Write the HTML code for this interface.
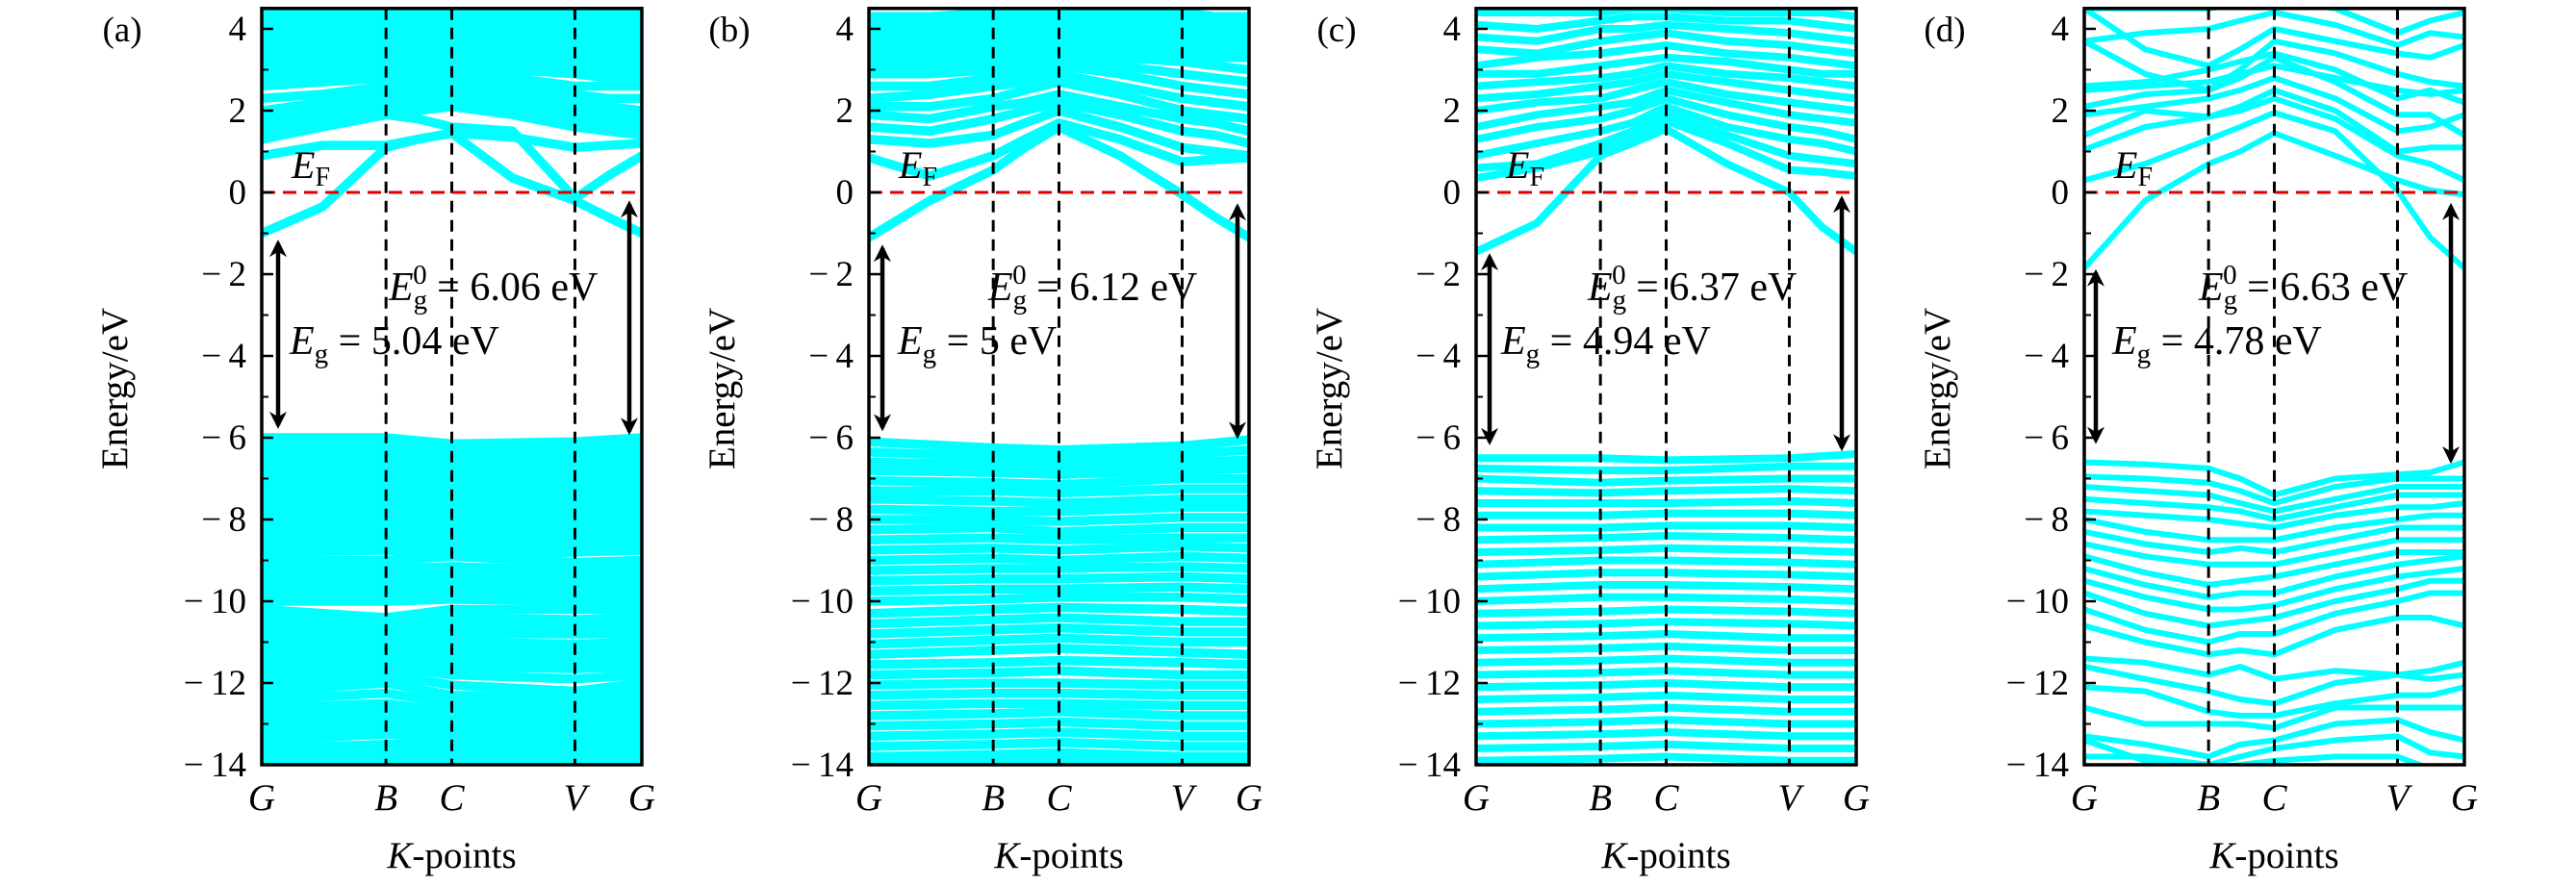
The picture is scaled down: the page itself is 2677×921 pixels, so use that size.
<!DOCTYPE html>
<html><head><meta charset="utf-8"><style>
html,body{margin:0;padding:0;background:#fff;}
svg{display:block;font-family:"Liberation Serif",serif;}
</style></head><body>
<svg id="fig" width="2677" height="921" viewBox="0 0 2677 921" xmlns="http://www.w3.org/2000/svg"></svg>
<script>
const kLabels = ["G","B","C","V","G"];
const kPos5 = [0, 0.327, 0.5, 0.824, 1];
const kPos9 = [0, 0.16, 0.327, 0.41, 0.5, 0.66, 0.824, 0.91, 1];
const yTicks = [4, 2, 0, -2, -4, -6, -8, -10, -12, -14];
const yMinor = [3, 1, -1, -3, -5, -7, -9, -11, -13];
const panelLetters = ["(a)", "(b)", "(c)", "(d)"];
const gapValues = ["6.06", "6.12", "6.37", "6.63"];
const egValues = ["5.04", "5", "4.94", "4.78"];

const bandsA = [
"-1.0 -0.35 1.1 1.3 1.45 0.35 -0.2 -0.6 -1.0",
"0.9 1.15 1.15 1.3 1.45 1.35 1.1 1.15 1.2",
"1.3 1.6 1.9 1.8 1.6 1.5 -0.15 0.4 0.9",
"1.4 1.7 1.9 2.0 2.1 1.9 1.6 1.5 1.4",
"1.6 1.8 2.0 2.2 2.3 2.1 1.8 1.7 1.6",
"1.8 2.0 2.2 2.3 2.4 2.2 2.0 1.9 1.8",
"2.0 2.2 2.4 2.5 2.6 2.4 2.2 2.1 2.0",
"2.3 2.4 2.6 2.7 2.8 2.6 2.4 2.3 2.3",
"2.6 2.7 2.8 2.9 3.0 2.8 2.6 2.6 2.6",
"2.8 2.9 3.0 3.1 3.2 3.0 2.9 2.8 2.8",
"3.0 3.1 3.2 3.3 3.4 3.2 3.1 3.0 3.0",
"3.2 3.3 3.4 3.5 3.6 3.4 3.3 3.2 3.2",
"3.4 3.5 3.6 3.7 3.8 3.6 3.5 3.4 3.4",
"3.6 3.7 3.8 3.9 3.9 3.8 3.7 3.6 3.6",
"3.8 3.9 4.0 4.0 4.1 4.0 3.9 3.8 3.8",
"4.0 4.1 4.2 4.2 4.25 4.2 4.1 4.0 4.0",
"4.2 4.3 4.35 4.4 4.4 4.35 4.3 4.2 4.2",
"4.4 4.45 4.5 4.55 4.55 4.5 4.45 4.4 4.4",
"-6.0 -6.0 -6.15 -6.1 -6.0",
"-6.2 -6.2 -6.3 -6.25 -6.2",
"-6.4 -6.35 -6.5 -6.4 -6.35",
"-6.6 -6.55 -6.7 -6.6 -6.55",
"-6.8 -6.75 -6.85 -6.8 -6.75",
"-7.0 -6.95 -7.05 -7.0 -6.95",
"-7.2 -7.15 -7.25 -7.2 -7.15",
"-7.4 -7.35 -7.45 -7.4 -7.35",
"-7.6 -7.55 -7.65 -7.6 -7.55",
"-7.8 -7.75 -7.85 -7.8 -7.75",
"-8.0 -7.95 -8.05 -8.0 -7.95",
"-8.2 -8.15 -8.25 -8.2 -8.15",
"-8.4 -8.35 -8.45 -8.4 -8.35",
"-8.6 -8.55 -8.65 -8.6 -8.55",
"-8.8 -8.75 -8.85 -8.8 -8.75",
"-9.0 -9.0 -8.9 -9.05 -9.0",
"-9.2 -9.2 -9.15 -9.25 -9.2",
"-9.4 -9.4 -9.35 -9.45 -9.4",
"-9.6 -9.6 -9.55 -9.65 -9.6",
"-9.8 -9.8 -9.75 -9.85 -9.8",
"-10.0 -10.0 -9.95 -10.0 -10.0",
"-10.2 -10.4 -10.2 -10.2 -10.2",
"-10.4 -10.55 -10.4 -10.45 -10.4",
"-10.6 -10.7 -10.6 -10.6 -10.6",
"-10.8 -10.85 -10.8 -10.8 -10.8",
"-11.0 -11.0 -11.0 -11.05 -11.0",
"-11.2 -11.15 -11.2 -11.25 -11.2",
"-11.4 -11.35 -11.4 -11.45 -11.4",
"-11.6 -11.55 -11.6 -11.65 -11.6",
"-11.8 -11.6 -11.8 -11.9 -11.8",
"-12.0 -11.8 -12.05 -12.2 -12.0",
"-12.2 -12.0 -12.3 -12.35 -12.2",
"-12.4 -12.25 -12.5 -12.5 -12.4",
"-12.6 -12.5 -12.7 -12.65 -12.6",
"-12.8 -12.7 -12.85 -12.8 -12.8",
"-13.0 -12.9 -13.0 -12.95 -13.0",
"-13.2 -13.1 -13.15 -13.1 -13.2",
"-13.4 -13.25 -13.3 -13.3 -13.4",
"-13.6 -13.5 -13.45 -13.5 -13.55",
"-13.8 -13.7 -13.65 -13.7 -13.75",
"-14.0 -13.9 -13.85 -13.9 -13.95"
];
const bandsB = [
"-1.1 -0.2 0.55 1.1 1.6 0.9 -0.05 -0.6 -1.1",
"0.85 0.4 0.9 1.3 1.7 1.3 0.75 0.8 0.85",
"1.3 1.2 1.4 1.7 2.0 1.6 1.1 1.0 0.9",
"1.6 1.5 1.8 2.0 2.2 1.9 1.5 1.4 1.2",
"1.9 1.8 2.1 2.2 2.4 2.1 1.8 1.7 1.5",
"2.1 2.1 2.3 2.5 2.7 2.4 2.0 1.9 1.8",
"2.3 2.4 2.6 2.7 2.9 2.6 2.3 2.2 2.1",
"2.6 2.6 2.8 2.9 3.1 2.9 2.6 2.5 2.4",
"2.9 2.9 3.0 3.1 3.3 3.1 2.9 2.8 2.7",
"3.1 3.1 3.2 3.3 3.5 3.3 3.2 3.1 3.0",
"3.3 3.3 3.4 3.5 3.6 3.5 3.4 3.3 3.3",
"3.5 3.5 3.6 3.7 3.8 3.7 3.6 3.5 3.5",
"3.7 3.7 3.8 3.9 4.0 3.9 3.8 3.7 3.7",
"3.9 3.9 4.0 4.1 4.2 4.1 4.0 3.9 3.9",
"4.1 4.1 4.2 4.3 4.35 4.3 4.2 4.1 4.1",
"4.3 4.3 4.4 4.45 4.5 4.45 4.4 4.3 4.3",
"-6.1 -6.25 -6.3 -6.2 -6.05",
"-6.35 -6.45 -6.5 -6.4 -6.3",
"-6.6 -6.65 -6.7 -6.6 -6.55",
"-6.8 -6.85 -6.9 -6.8 -6.75",
"-7.05 -7.1 -7.15 -7.0 -7.0",
"-7.3 -7.3 -7.35 -7.25 -7.25",
"-7.5 -7.55 -7.6 -7.5 -7.5",
"-7.75 -7.8 -7.8 -7.7 -7.7",
"-8.0 -8.0 -8.05 -7.95 -7.95",
"-8.25 -8.2 -8.3 -8.2 -8.2",
"-8.5 -8.45 -8.5 -8.45 -8.45",
"-8.75 -8.7 -8.75 -8.65 -8.7",
"-9.0 -8.95 -9.0 -8.9 -8.95",
"-9.25 -9.2 -9.2 -9.15 -9.2",
"-9.5 -9.45 -9.45 -9.4 -9.45",
"-9.75 -9.7 -9.7 -9.65 -9.7",
"-10.0 -9.95 -9.9 -9.9 -9.95",
"-10.3 -10.2 -10.15 -10.2 -10.25",
"-10.55 -10.45 -10.4 -10.5 -10.5",
"-10.8 -10.7 -10.65 -10.75 -10.75",
"-11.05 -10.95 -10.9 -11.0 -11.0",
"-11.3 -11.2 -11.15 -11.25 -11.3",
"-11.55 -11.5 -11.45 -11.5 -11.55",
"-11.8 -11.75 -11.7 -11.8 -11.8",
"-12.05 -12.0 -12.0 -12.05 -12.05",
"-12.3 -12.25 -12.25 -12.3 -12.3",
"-12.55 -12.5 -12.5 -12.55 -12.55",
"-12.8 -12.75 -12.7 -12.8 -12.8",
"-13.05 -13.0 -12.95 -13.05 -13.05",
"-13.3 -13.25 -13.2 -13.3 -13.3",
"-13.55 -13.5 -13.45 -13.55 -13.55",
"-13.8 -13.75 -13.7 -13.8 -13.8",
"-14.0 -13.95 -13.9 -14.0 -14.0"
];
const bandsC = [
"-1.45 -0.75 0.9 1.2 1.55 0.7 0.0 -0.85 -1.45",
"0.35 0.6 1.0 1.3 1.75 1.2 0.55 0.5 0.4",
"0.6 0.7 1.2 1.5 1.9 1.4 0.9 0.8 0.7",
"0.9 1.2 1.5 1.7 2.1 1.6 1.3 1.2 1.0",
"1.3 1.6 1.8 2.0 2.3 1.9 1.6 1.5 1.3",
"1.6 1.9 2.1 2.2 2.5 2.2 1.9 1.8 1.7",
"2.0 2.2 2.3 2.5 2.7 2.4 2.2 2.1 2.0",
"2.3 2.4 2.6 2.7 2.9 2.7 2.5 2.4 2.3",
"2.6 2.7 2.8 2.9 3.1 2.9 2.8 2.7 2.6",
"2.9 2.9 3.1 3.2 3.3 3.2 3.0 2.9 2.9",
"3.1 3.3 3.4 3.5 3.6 3.4 3.3 3.2 3.1",
"3.5 3.4 3.7 3.8 3.9 3.7 3.6 3.5 3.4",
"3.8 3.7 4.0 4.0 4.1 4.0 3.9 3.8 3.7",
"4.1 4.0 4.2 4.3 4.3 4.2 4.2 4.1 4.0",
"4.4 4.4 4.4 4.5 4.5 4.4 4.4 4.4 4.3",
"-6.5 -6.5 -6.55 -6.5 -6.4",
"-6.75 -6.8 -6.8 -6.7 -6.7",
"-7.0 -7.1 -7.05 -7.0 -7.0",
"-7.3 -7.35 -7.3 -7.25 -7.3",
"-7.6 -7.6 -7.6 -7.55 -7.6",
"-7.9 -7.9 -7.85 -7.85 -7.9",
"-8.2 -8.2 -8.15 -8.15 -8.2",
"-8.5 -8.45 -8.4 -8.45 -8.5",
"-8.8 -8.75 -8.7 -8.75 -8.8",
"-9.1 -9.0 -9.0 -9.05 -9.1",
"-9.4 -9.3 -9.3 -9.35 -9.4",
"-9.7 -9.6 -9.6 -9.65 -9.7",
"-10.0 -9.9 -9.9 -9.95 -10.0",
"-10.3 -10.25 -10.2 -10.25 -10.3",
"-10.6 -10.55 -10.5 -10.55 -10.6",
"-10.9 -10.85 -10.8 -10.9 -10.9",
"-11.2 -11.15 -11.1 -11.2 -11.2",
"-11.5 -11.45 -11.4 -11.5 -11.5",
"-11.8 -11.75 -11.7 -11.8 -11.8",
"-12.1 -12.05 -12.0 -12.1 -12.1",
"-12.4 -12.35 -12.3 -12.4 -12.4",
"-12.7 -12.65 -12.6 -12.7 -12.7",
"-13.0 -12.95 -12.9 -13.0 -13.0",
"-13.3 -13.25 -13.2 -13.3 -13.3",
"-13.6 -13.55 -13.5 -13.6 -13.6",
"-13.9 -13.85 -13.8 -13.9 -13.9"
];
const bandsD = [
"-1.85 -0.2 0.7 1.0 1.45 0.9 0.3 0.05 -0.05",
"0.3 0.7 1.3 1.6 1.95 1.5 0.05 -1.1 -1.85",
"1.05 1.6 1.85 2.0 2.3 1.8 0.9 0.7 0.3",
"1.4 2.0 1.85 2.1 2.5 2.0 1.0 1.1 1.1",
"2.1 2.4 2.5 2.8 3.3 2.7 1.9 1.9 1.4",
"2.6 2.7 3.0 3.2 3.4 3.0 2.3 2.5 2.2",
"3.7 2.9 2.5 3.0 3.7 3.4 2.9 2.7 2.6",
"4.5 3.5 3.1 3.5 4.0 3.7 3.4 3.3 3.6",
"3.7 3.9 4.0 4.2 4.4 4.1 3.6 3.9 3.8",
"4.5 4.5 4.5 4.6 4.7 4.5 3.9 4.2 4.4",
"2.5 2.6 2.7 2.9 3.1 2.8 2.5 2.4 2.5",
"1.9 2.1 2.3 2.5 2.8 2.3 1.5 1.6 1.9",
"-6.6 -6.65 -6.75 -7.0 -7.4 -7.0 -6.9 -6.85 -6.6",
"-6.95 -7.0 -7.1 -7.3 -7.6 -7.2 -7.0 -7.0 -7.0",
"-7.2 -7.3 -7.4 -7.6 -7.8 -7.5 -7.2 -7.2 -7.2",
"-7.5 -7.6 -7.7 -7.8 -8.0 -7.7 -7.4 -7.4 -7.4",
"-7.8 -7.9 -8.0 -8.1 -8.2 -7.9 -7.7 -7.7 -7.6",
"-8.0 -8.3 -8.5 -8.5 -8.5 -8.2 -8.0 -7.9 -7.9",
"-8.3 -8.6 -8.8 -8.7 -8.8 -8.5 -8.2 -8.2 -8.2",
"-8.6 -8.9 -9.1 -9.1 -9.1 -8.8 -8.5 -8.5 -8.5",
"-8.9 -9.3 -9.6 -9.5 -9.4 -9.1 -8.8 -8.8 -8.8",
"-9.2 -9.6 -9.9 -9.8 -9.8 -9.4 -9.1 -9.0 -8.9",
"-9.5 -9.9 -10.2 -10.2 -10.1 -9.7 -9.4 -9.3 -9.2",
"-9.8 -10.3 -10.6 -10.5 -10.4 -10.0 -9.7 -9.5 -9.5",
"-10.2 -10.7 -11.0 -10.8 -10.8 -10.3 -10.0 -9.8 -9.8",
"-10.6 -11.0 -11.3 -11.2 -11.3 -10.7 -10.4 -10.4 -10.6",
"-11.4 -11.5 -11.8 -11.6 -11.9 -11.7 -11.8 -11.7 -11.5",
"-11.6 -11.9 -12.2 -12.4 -12.5 -12.0 -11.8 -11.9 -11.8",
"-12.1 -12.2 -12.7 -12.8 -12.8 -12.5 -12.3 -12.3 -12.1",
"-12.6 -13.0 -13.0 -13.0 -13.1 -12.6 -12.6 -12.6 -12.6",
"-13.3 -13.5 -13.8 -13.5 -13.4 -13.0 -12.9 -13.2 -13.4",
"-13.8 -13.8 -14.0 -13.8 -13.6 -13.4 -13.3 -13.7 -13.8",
"-13.4 -13.9 -14.1 -14.0 -13.9 -13.8 -13.8 -14.1 -14.1"
];
const allBands = [bandsA, bandsB, bandsC, bandsD];
// arrow endpoints (energy, eV): [left top, left bottom, right top, right bottom]
const arrowsE = [[-1.24,-5.7,-0.28,-5.85],[-1.36,-5.76,-0.35,-5.95],[-1.57,-6.1,-0.16,-6.25],[-1.96,-6.07,-0.34,-6.55]];

const NS = "http://www.w3.org/2000/svg";
const svg = document.getElementById("fig");
const panelLeft = [272, 903, 1534, 2166];
const PW = 395, Y0 = 200, PU = 42.5;
const strokeW = [9.5, 9.5, 8, 6];
const egX = [[132,29],[124,30],[116,26],[119,29]];
const arrX = [[17,382],[14,383],[14,380],[12,381]];
function yS(v){ return Y0 - v*PU; }
function mk(tag, attrs, parent){
  const e = document.createElementNS(NS, tag);
  for (const k in attrs) e.setAttribute(k, attrs[k]);
  (parent||svg).appendChild(e); return e;
}
const defs = mk("defs", {});
panelLeft.forEach((L, p) => {
  const cp = mk("clipPath", {id: "clip" + p}, defs);
  mk("rect", {x: L, y: yS(4.5), width: PW, height: yS(-14) - yS(4.5)}, cp);
});
const mkr = mk("marker", {id:"ah", viewBox:"0 0 10 10", refX:"8", refY:"5", markerWidth:"4", markerHeight:"4", orient:"auto-start-reverse"}, defs);
mk("path", {d:"M0,0 L10,5 L0,10 L3,5 z", fill:"#000"}, mkr);

panelLeft.forEach((L, p) => {
  const xS = f => L + f*PW;
  const g = mk("g", {});
  
  
  const bg = mk("g", {"clip-path": "url(#clip" + p + ")"}, g);
  
  
  allBands[p].forEach((s, i) => {
    const vals = s.trim().split(/\s+/).map(Number);
    const ks = vals.length === 9 ? kPos9 : kPos5;
    const pts = vals.map((v, j) => xS(ks[j]).toFixed(1) + "," + yS(v).toFixed(1)).join(" ");
    const pl = mk("polyline", {points: pts, fill: "none", stroke: "#00ffff", "stroke-width": strokeW[p], "stroke-linejoin": "round"}, bg);
    
    
  });
  [1,2,3].forEach(j => {
    const ln = mk("line", {x1: xS(kPos5[j]), x2: xS(kPos5[j]), y1: yS(4.5), y2: yS(-14), stroke: "#000", "stroke-width": 3, "stroke-dasharray": "12 8"}, g);
    
    
  });
  const ef = mk("line", {x1: L, x2: L+PW, y1: yS(0), y2: yS(0), stroke: "#e00000", "stroke-width": 3, "stroke-dasharray": "14 8"}, g);
  
  
  yTicks.forEach(t => {
    const tk = mk("line", {x1: L, x2: L+12, y1: yS(t), y2: yS(t), stroke: "#000", "stroke-width": 2.5}, g);
    
    
    const tx = mk("text", {x: L-16, y: yS(t)+12, "text-anchor": "end", "font-size": 37}, g);
    tx.textContent = t < 0 ? "\u2212\u2009" + (-t) : String(t);
    
    
  });
  yMinor.forEach(t => {
    const tk = mk("line", {x1: L, x2: L+7, y1: yS(t), y2: yS(t), stroke: "#000", "stroke-width": 2}, g);
    
    
  });
  kLabels.forEach((k, j) => {
    const tx = mk("text", {x: xS(kPos5[j]), y: 842, "text-anchor": "middle", "font-size": 39, "font-style": "italic"}, g);
    tx.textContent = k;
    
    
  });
  const box = mk("rect", {x: L, y: yS(4.5), width: PW, height: yS(-14)-yS(4.5), fill: "none", stroke: "#000", "stroke-width": 3.5}, g);
  
  
  const xt = mk("text", {x: L+PW/2, y: 902, "text-anchor": "middle", "font-size": 39}, g);
  xt.innerHTML = '<tspan font-style="italic">K</tspan>-points';
  
  
  const yt = mk("text", {x: 0, y: 0, "text-anchor": "middle", "font-size": 39, transform: "translate(" + (L-140) + ",404) rotate(-90)"}, g);
  yt.textContent = "Energy/eV";
  
  
  const pl = mk("text", {x: L-145, y: 43, "text-anchor": "middle", "font-size": 37}, g);
  pl.textContent = panelLetters[p];
  
  
  const eft = mk("text", {x: L+31, y: 185, "font-size": 40}, g);
  eft.innerHTML = '<tspan font-style="italic">E</tspan><tspan font-size="28" dy="8">F</tspan>';
  
  
  const g0 = mk("text", {x: L+egX[p][0], y: 312, "font-size": 42}, g);
  g0.innerHTML = '<tspan font-style="italic">E</tspan><tspan font-size="29" dy="9">g</tspan><tspan font-size="29" dx="-15" dy="-26">0</tspan><tspan dy="17"> = ' + gapValues[p] + ' eV</tspan>';
  
  
  const g1 = mk("text", {x: L+egX[p][1], y: 368, "font-size": 42}, g);
  g1.innerHTML = '<tspan font-style="italic">E</tspan><tspan font-size="29" dy="9">g</tspan><tspan dy="-9"> = ' + egValues[p] + ' eV</tspan>';
  
  
  const a = arrowsE[p];
  const a1 = mk("line", {x1: L+arrX[p][0], x2: L+arrX[p][0], y1: yS(a[0]), y2: yS(a[1]), stroke: "#000", "stroke-width": 4.5, "marker-start": "url(#ah)", "marker-end": "url(#ah)"}, g);
  
  
  const a2 = mk("line", {x1: L+arrX[p][1], x2: L+arrX[p][1], y1: yS(a[2]), y2: yS(a[3]), stroke: "#000", "stroke-width": 4.5, "marker-start": "url(#ah)", "marker-end": "url(#ah)"}, g);
  
  
});
</script>
</body></html>
